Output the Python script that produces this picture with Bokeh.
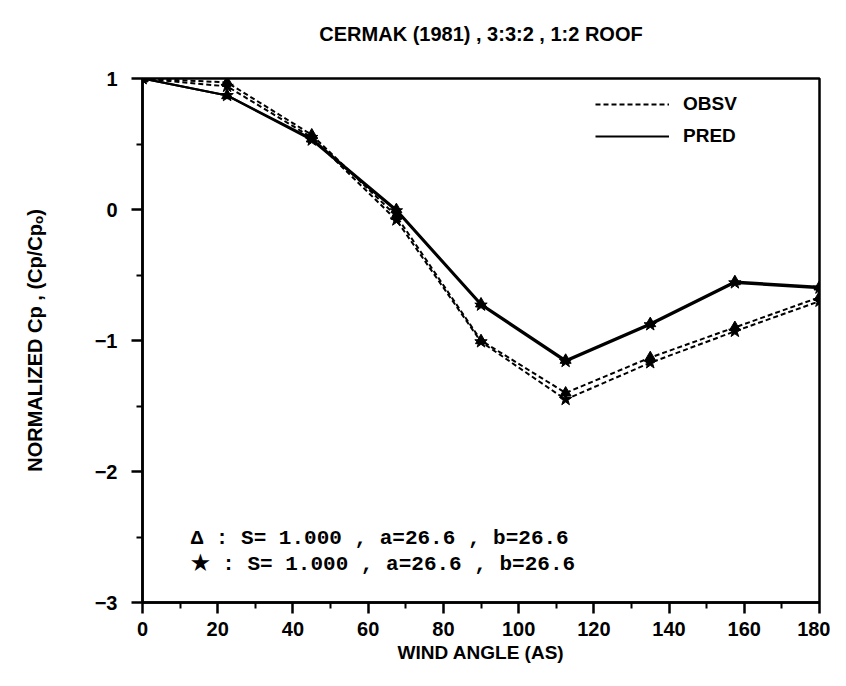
from bokeh.plotting import figure
from bokeh.models import Range1d, FixedTicker, Label, Legend, LegendItem, Title
from bokeh.embed import file_html
from bokeh.resources import INLINE

# ---- data ----
wind_angle = [0, 22.5, 45, 67.5, 90, 112.5, 135, 157.5, 180]
obsv_tri = [1.0, 0.97, 0.57, -0.05, -1.00, -1.40, -1.13, -0.90, -0.67]
obsv_star = [1.0, 0.94, 0.55, -0.08, -1.01, -1.45, -1.17, -0.93, -0.70]
pred_tri = [1.0, 0.87, 0.54, 0.00, -0.72, -1.15, -0.87, -0.55, -0.59]
pred_star = [1.0, 0.87, 0.53, -0.01, -0.73, -1.16, -0.88, -0.56, -0.60]

x_ticks = [0, 20, 40, 60, 80, 100, 120, 140, 160, 180]
x_minor = [10, 30, 50, 70, 90, 110, 130, 150, 170]
y_ticks = [-3, -2, -1, 0, 1]
y_minor = [-2.5, -1.5, -0.5, 0.5]

title_text = "CERMAK (1981) , 3:3:2 , 1:2 ROOF"
x_title = "WIND ANGLE (AS)"
y_title = "NORMALIZED Cp , (Cp/Cpₒ)"
legend_labels = ["OBSV", "PRED"]
annot_tri = "Δ : S= 1.000 , a=26.6 , b=26.6"
annot_star = "★ : S= 1.000 , a=26.6 , b=26.6"

FONT = "Liberation Sans"
MONO = "Liberation Mono"

p = figure(width=830, height=670, output_backend="svg", toolbar_location=None,
           x_range=Range1d(0, 180), y_range=Range1d(-3, 1),
           min_border_left=142, min_border_right=11, min_border_top=78, min_border_bottom=68)

p.title.text = title_text
p.title.align = "center"
p.title.text_font = FONT
p.title.text_font_size = "20px"
p.title.text_font_style = "bold"
p.title.text_color = "black"

# spacer between the frame and the title
p.add_layout(Title(text=" ", text_font_size="16px", text_color="white"), "above")

p.grid.visible = False
p.background_fill_color = "white"
p.border_fill_color = "white"
p.outline_line_color = "black"
p.outline_line_width = 2.5
p.outline_line_alpha = 1

for ax in (p.xaxis[0], p.yaxis[0]):
    ax.axis_line_width = 2.5
    ax.axis_line_color = "black"
    ax.major_tick_line_width = 2.5
    ax.minor_tick_line_width = 2
    ax.major_tick_line_color = "black"
    ax.minor_tick_line_color = "black"
    ax.major_tick_in = 0
    ax.minor_tick_in = 0
    ax.major_tick_out = 11
    ax.minor_tick_out = 6
    ax.major_label_text_font = FONT
    ax.major_label_text_font_size = "20px"
    ax.major_label_text_font_style = "bold"
    ax.major_label_text_color = "black"
    ax.axis_label_text_font = FONT
    ax.axis_label_text_font_size = "19px"
    ax.axis_label_text_font_style = "bold"
    ax.axis_label_text_color = "black"

p.xaxis[0].ticker = FixedTicker(ticks=x_ticks, minor_ticks=x_minor)
p.yaxis[0].ticker = FixedTicker(ticks=y_ticks, minor_ticks=y_minor)
p.xaxis[0].major_label_standoff = 8
p.yaxis[0].major_label_standoff = 14
p.xaxis[0].axis_label = x_title
p.yaxis[0].axis_label = y_title
p.yaxis[0].axis_label_text_font_size = "20px"
p.xaxis[0].axis_label_standoff = 3
p.yaxis[0].axis_label_standoff = 46

dash = "5 3"
r_obsv_tri = p.line(wind_angle, obsv_tri, line_color="black", line_width=2, line_dash=dash)
r_obsv_star = p.line(wind_angle, obsv_star, line_color="black", line_width=2, line_dash=dash)
r_pred_tri = p.line(wind_angle, pred_tri, line_color="black", line_width=2.2)
r_pred_star = p.line(wind_angle, pred_star, line_color="black", line_width=2.2)

for ys in (obsv_tri, pred_tri):
    p.scatter(wind_angle, ys, marker="triangle", size=11, fill_color="black", line_color="black")
for ys in (obsv_star, pred_star):
    p.scatter(wind_angle, ys, marker="star", size=13, fill_color="black", line_color="black")

legend = Legend(items=[LegendItem(label=legend_labels[0], renderers=[r_obsv_tri]),
                       LegendItem(label=legend_labels[1], renderers=[r_pred_tri])],
                location=(453, 455), orientation="vertical",
                glyph_width=74, glyph_height=22, label_height=22, label_standoff=14,
                spacing=10, padding=0, margin=0,
                border_line_alpha=0, background_fill_alpha=0,
                label_text_font=FONT, label_text_font_size="19px", label_text_font_style="bold",
                label_text_color="black")
p.add_layout(legend, "center")

for txt, yv in ((annot_tri, -2.51), (annot_star, -2.71)):
    p.add_layout(Label(x=12.8, y=yv, text=txt, text_font=MONO, text_font_size="21px",
                       text_font_style="bold",
                       text_color="black", text_baseline="middle", text_align="left"))

open("out.html", "w").write(file_html(p, INLINE))
